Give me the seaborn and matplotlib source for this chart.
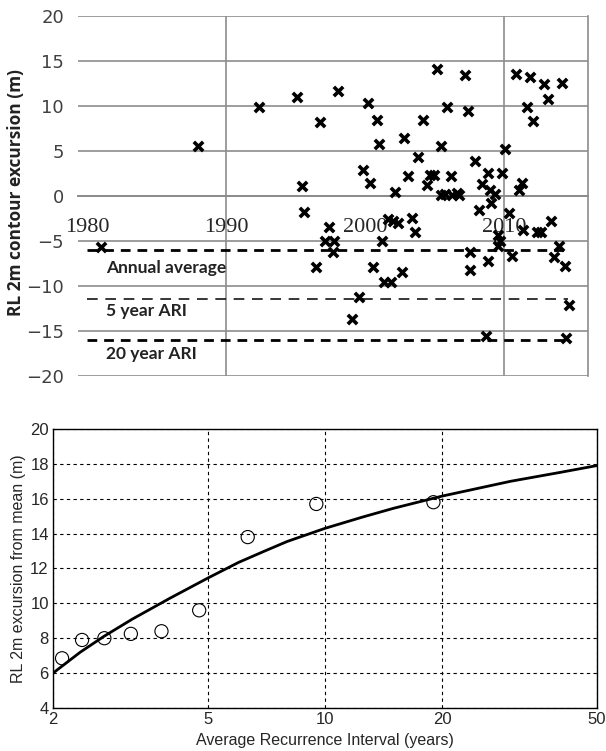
import matplotlib
matplotlib.use("Agg")
import matplotlib.pyplot as plt
import seaborn as sns
import pandas as pd
import numpy as np

# top panel: yearly contour excursions
years = [1981.0, 1988.0, 1992.4, 1995.1, 1998.1, 1996.8, 2000.2, 2000.9, 2001.0, 2002.8,
         2003.8, 1999.9, 2000.4, 2003.1, 2002.2, 1995.5, 2005.2, 2007.2, 2010.9, 2011.9,
         2012.9, 2014.2, 2013.2, 2011.7, 2012.1, 2005.9, 2007.4, 2004.2, 2005.5, 2010.1,
         2007.9, 2008.9, 2009.9, 2004.7, 2005.0, 2006.2, 2004.5, 2008.4, 2009.0, 2009.4,
         2011.3, 2011.1, 2005.5, 2005.8, 2006.3, 2006.6, 2006.8, 1995.6, 1997.4, 1997.1,
         1997.8, 1997.7, 1996.5, 2000.6, 2001.2, 2001.4, 2001.9, 2002.7, 1999.6, 1999.1,
         2001.7, 2002.0, 2002.4, 2003.4, 2003.6, 2008.2, 2009.1, 2010.4, 2009.6, 2009.7,
         2009.6, 2011.4, 2012.4, 2012.7, 2013.4, 2014.0, 2013.6, 2014.4, 2007.6, 2008.9,
         2007.6, 2010.6, 2014.7, 2008.7, 2014.5]
excursion = [-5.7, 5.6, 9.9, 11.0, 11.7, 8.2, 10.3, 8.4, 5.8, 6.4,
             4.3, 2.9, 1.5, 2.2, 0.5, 1.1, 14.1, 13.4, 13.6, 13.2,
             12.5, 12.6, 10.8, 9.9, 8.3, 9.9, 9.4, 8.5, 5.6, 5.2,
             3.9, 2.6, 2.6, 2.3, 2.3, 2.2, 1.2, 1.3, 0.7, 0.2,
             1.5, 0.7, 0.1, 0.2, 0.1, 0.3, 0.1, -1.8, -3.4, -5.0,
             -5.0, -6.2, -7.9, -7.9, -5.0, -9.5, -9.6, -8.4, -11.2, -13.7,
             -2.5, -2.8, -3.0, -2.4, -4.0, -1.6, -0.8, -1.9, -4.3, -5.0,
             -5.6, -3.8, -4.0, -4.0, -2.8, -5.5, -6.8, -7.8, -6.2, -7.2,
             -8.2, -6.7, -12.1, -15.6, -15.8]

level_names = ["Annual average", "5 year ARI", "20 year ARI"]
level_values = [-6.0, -11.4, -16.0]

# bottom panel: recurrence interval analysis
ari = [2.11, 2.375, 2.71, 3.17, 3.8, 4.75, 6.33, 9.5, 19.0]
rl_excursion = [6.85, 7.9, 8.0, 8.25, 8.4, 9.6, 13.8, 15.7, 15.8]
fit_ari = [2.0, 2.35, 2.7, 3.2, 4.0, 5.0, 6.0, 7.0, 8.0, 10.0, 12.5, 15.0, 20.0, 30.0, 40.0, 50.0]
fit_rl = [6.0, 7.2, 8.1, 9.1, 10.3, 11.45, 12.35, 13.0, 13.55, 14.3, 14.95, 15.45, 16.15, 17.0, 17.5, 17.9]

sns.set_style("white")
plt.rcParams["font.family"] = ["Liberation Sans", "DejaVu Sans"]

fig = plt.figure(figsize=(6.06, 7.51), dpi=100)
ax1 = fig.add_axes([0.1287, 0.4993, 0.8413, 0.4794])
ax2 = fig.add_axes([0.0875, 0.0573, 0.8975, 0.3715])

# ---- top panel ----
top = pd.DataFrame({"year": years, "exc": excursion})
gcol = "#8c8c8c"
for y in range(-20, 21, 5):
    ax1.axhline(y, color=gcol, lw=1.2, zorder=0)
for x in [1990, 2010]:
    ax1.axvline(x, color=gcol, lw=1.2, zorder=0)

styles = [dict(lw=2.0, dashes=(3.5, 2.5)), dict(lw=1.1, dashes=(7, 5)), dict(lw=2.0, dashes=(3.5, 2.5))]
for name, val, st in zip(level_names, level_values, styles):
    ax1.plot([1980, 2014.6], [val, val], color="black", **st, zorder=2)

sns.scatterplot(data=top, x="year", y="exc", marker="x", color="black", s=45,
                linewidth=2.6, ax=ax1, zorder=3)

label_y = [-7.95, -12.8, -17.6]
for name, ly in zip(level_names, label_y):
    ax1.text(1981.4, ly, name, fontsize=12.5, fontweight="bold", family="Lato",
             color="#222222", ha="left", va="center")

ax1.set_xlim(1979.35, 2016.05)
ax1.set_ylim(-20, 20)
ax1.set_yticks(range(-20, 21, 5))
ax1.set_xticks([1980, 1990, 2000, 2010])
for sp in ["left", "top"]:
    ax1.spines[sp].set_visible(False)
ax1.spines["right"].set_color(gcol)
ax1.spines["right"].set_linewidth(1.2)
ax1.spines["bottom"].set_position(("data", 0))
ax1.spines["bottom"].set_color(gcol)
ax1.spines["bottom"].set_linewidth(1.4)
ax1.tick_params(axis="x", length=0, pad=16, labelsize=16)
ax1.tick_params(axis="y", length=0, pad=10, labelsize=13, labelcolor="#404040")
for lab in ax1.get_xticklabels():
    lab.set_family("Liberation Serif")
for lab in ax1.get_yticklabels():
    lab.set_family("DejaVu Sans")
ax1.set_xlabel("")
ax1.set_ylabel("RL 2m contour excursion (m)", fontsize=12.5, fontweight="bold",
               family="Open Sans", color="#222222")
ax1.yaxis.set_label_coords(-0.104, 0.51)

# ---- bottom panel ----
pts = pd.DataFrame({"ari": ari, "rl": rl_excursion})
fit = pd.DataFrame({"ari": fit_ari, "rl": fit_rl})
sns.lineplot(data=fit, x="ari", y="rl", color="black", lw=2.0, ax=ax2)
sns.scatterplot(data=pts, x="ari", y="rl", marker="o", s=90, facecolor="none",
                edgecolor="black", linewidth=0.8, ax=ax2, zorder=3)
ax2.set_xscale("log")
ax2.set_xlim(2, 50)
ax2.set_ylim(4, 20)
ax2.set_xticks([2, 5, 10, 20, 50])
ax2.set_xticklabels(["2", "5", "10", "20", "50"])
ax2.xaxis.set_minor_locator(matplotlib.ticker.NullLocator())
ax2.set_yticks(range(4, 21, 2))
ax2.grid(True, color="black", ls=(0, (3, 3)), lw=0.8)
for sp in ax2.spines.values():
    sp.set_color("black")
    sp.set_linewidth(1.0)
ax2.tick_params(length=0, labelsize=12, pad=3)
ax2.set_xlabel("Average Recurrence Interval (years)", fontsize=11.5)
ax2.set_ylabel("RL 2m excursion from mean (m)", fontsize=11.5, labelpad=3)

fig.savefig("out.png", dpi=100)
